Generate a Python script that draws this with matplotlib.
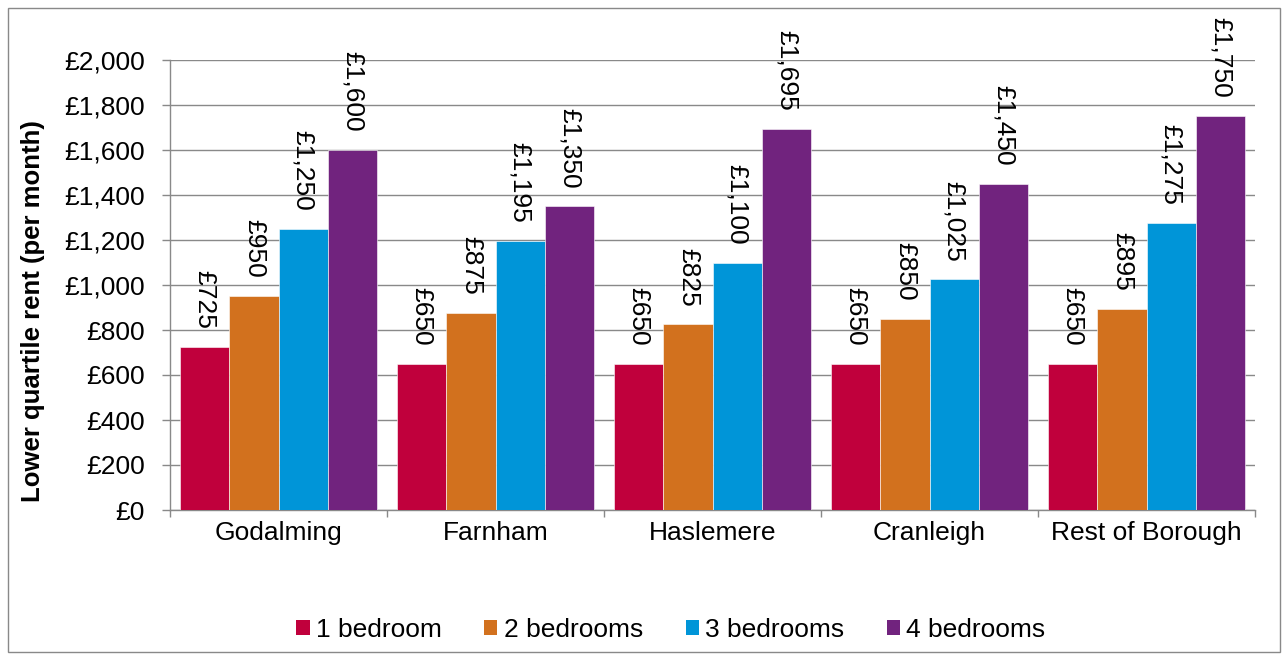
import numpy as np
import matplotlib.pyplot as plt
from matplotlib.patches import Patch, Rectangle

plt.rcParams['font.family'] = ['Liberation Sans', 'DejaVu Sans']

areas = ['Godalming', 'Farnham', 'Haslemere', 'Cranleigh', 'Rest of Borough']
series = ['1 bedroom', '2 bedrooms', '3 bedrooms', '4 bedrooms']
rent_1bed = [725, 650, 650, 650, 650]
rent_2bed = [950, 875, 825, 850, 895]
rent_3bed = [1250, 1195, 1100, 1025, 1275]
rent_4bed = [1600, 1350, 1695, 1450, 1750]
colors = ['#C0003C', '#D2711E', '#0095D8', '#71237E']

values = [rent_1bed, rent_2bed, rent_3bed, rent_4bed]
fs = 19

fig = plt.figure(figsize=(12.82, 6.55), dpi=100)
ax = fig.add_axes([170 / 1282, 1 - 510 / 655, 1085 / 1282, 450 / 655])

x = np.arange(len(areas))
w = 0.227
grey = '#898989'
for i, (vals, c) in enumerate(zip(values, colors)):
    pos = x + (i - 1.5) * w
    ax.bar(pos, vals, width=w, color=c, edgecolor='white', linewidth=0.4, zorder=3)
    for px, v in zip(pos, vals):
        ax.annotate('£{:,}'.format(v), (px, v), xytext=(0, 13), textcoords='offset points',
                    rotation=270, ha='center', va='bottom', fontsize=fs, zorder=4)

ax.set_xlim(-0.5, len(areas) - 0.5)
ax.set_ylim(0, 2000)
ax.set_yticks(np.arange(0, 2001, 200))
ax.set_yticklabels(['£{:,}'.format(t) for t in range(0, 2001, 200)])
ax.yaxis.grid(True, color=grey, linewidth=1, zorder=0)
ax.set_xticks(x)
ax.set_xticklabels(areas)
ax.set_xticks(np.arange(-0.5, len(areas)), minor=True)
ax.tick_params(axis='x', which='major', length=0, pad=8, labelsize=fs)
ax.tick_params(axis='x', which='minor', length=5, color=grey, width=1)
ax.tick_params(axis='y', length=6, color=grey, width=1, labelsize=fs, pad=12)
for s in ['top', 'right']:
    ax.spines[s].set_visible(False)
for s in ['left', 'bottom']:
    ax.spines[s].set_color(grey)
    ax.spines[s].set_linewidth(1)
ax.set_ylabel('Lower quartile rent (per month)', fontsize=18.5, fontweight='bold')
ax.yaxis.set_label_coords(-0.115, 0.442)

handles = [Patch(facecolor=c, edgecolor='none') for c in colors]
fig.legend(handles, series, loc='center', bbox_to_anchor=(671 / 1282, 1 - 630 / 655), ncol=4,
           frameon=False, fontsize=fs, handlelength=0.5, handleheight=0.5,
           handletextpad=0.25, columnspacing=1.6)

fig.patches.append(Rectangle((8 / 1282, 3 / 655), 1272 / 1282, 644 / 655, transform=fig.transFigure,
                             fill=False, edgecolor=grey, linewidth=1))

fig.savefig('out.png', dpi=100)
